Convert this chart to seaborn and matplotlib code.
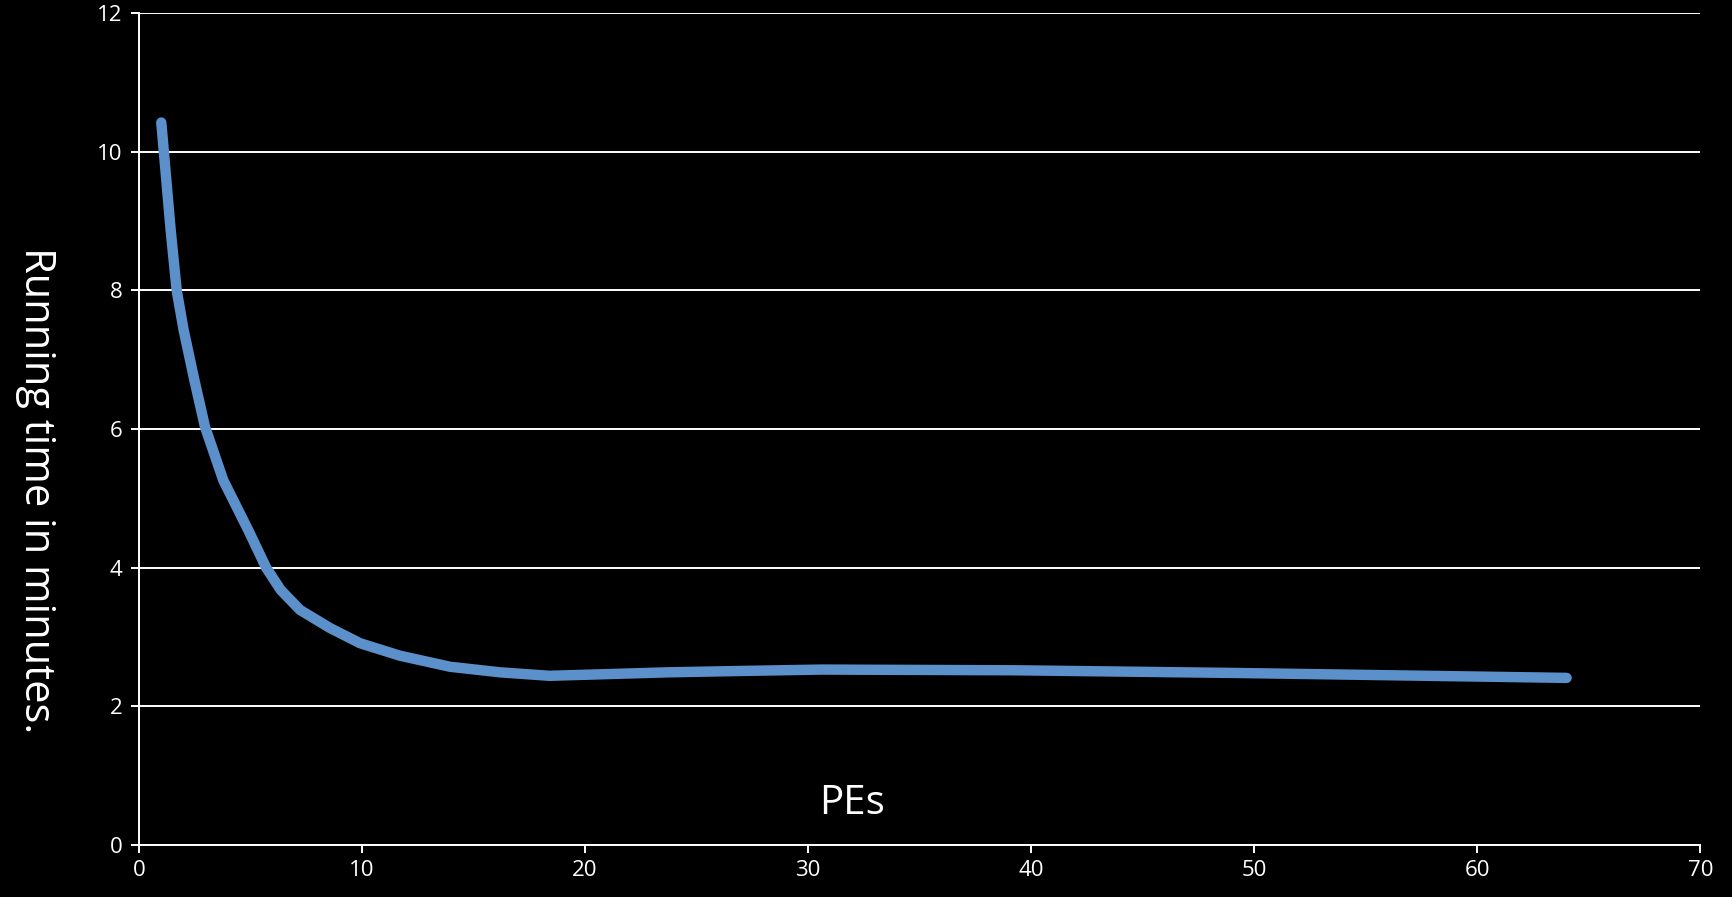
import matplotlib.pyplot as plt
import pandas as pd
import seaborn as sns

# 读取自图中的曲线数值
pes = [1.0, 1.42, 1.69, 2.0, 2.48, 2.96, 3.78, 4.90, 5.7, 6.35, 7.22, 8.56, 9.91,
       11.7, 13.95, 16.2, 18.4, 23.7, 27.0, 30.6, 39.2, 49.4, 64]
minutes = [10.42, 8.87, 8.0, 7.43, 6.71, 6.03, 5.26, 4.54, 4.0, 3.68, 3.39, 3.13, 2.91,
           2.73, 2.57, 2.49, 2.44, 2.49, 2.51, 2.53, 2.52, 2.48, 2.41]
x_ticks = [0, 10, 20, 30, 40, 50, 60, 70]
y_ticks = [0, 2, 4, 6, 8, 10, 12]

df = pd.DataFrame({'PEs': pes, 'minutes': minutes})

sns.set_theme(style='dark')
plt.rcParams['font.family'] = ['Open Sans', 'DejaVu Sans']

fig = plt.figure(figsize=(17.33, 8.97), dpi=100, facecolor='black')
ax = fig.add_axes([0.0802, 0.058, 0.901, 0.9275])
ax.set_facecolor('black')

sns.lineplot(data=df, x='PEs', y='minutes', color='#5b90cb', linewidth=7.5,
             solid_capstyle='round', solid_joinstyle='round', ax=ax, zorder=3)

ax.set_xlim(0, 70)
ax.set_ylim(0, 12)
ax.set_xticks(x_ticks)
ax.set_yticks(y_ticks)
ax.yaxis.grid(True, color='white', linewidth=1.4)
ax.xaxis.grid(False)

for side in ['top', 'right']:
    ax.spines[side].set_visible(False)
for side in ['left', 'bottom']:
    ax.spines[side].set_visible(True)
    ax.spines[side].set_color('white')
    ax.spines[side].set_linewidth(1.4)

ax.tick_params(axis='both', colors='white', labelcolor='white', labelsize=16,
               length=6, width=1.4, direction='out')
ax.tick_params(axis='x', bottom=True, pad=5)
ax.tick_params(axis='y', left=True, pad=6)

ax.set_xlabel('')
ax.set_ylabel('')
ax.text(0.4565, 0.049, 'PEs', transform=ax.transAxes, color='white', fontsize=29,
        ha='center', va='center')
fig.text(0.0205, 0.454, 'Running time in minutes.', color='white', fontsize=30,
         rotation=270, ha='center', va='center')

fig.savefig('out.png', dpi=100, facecolor='black')
